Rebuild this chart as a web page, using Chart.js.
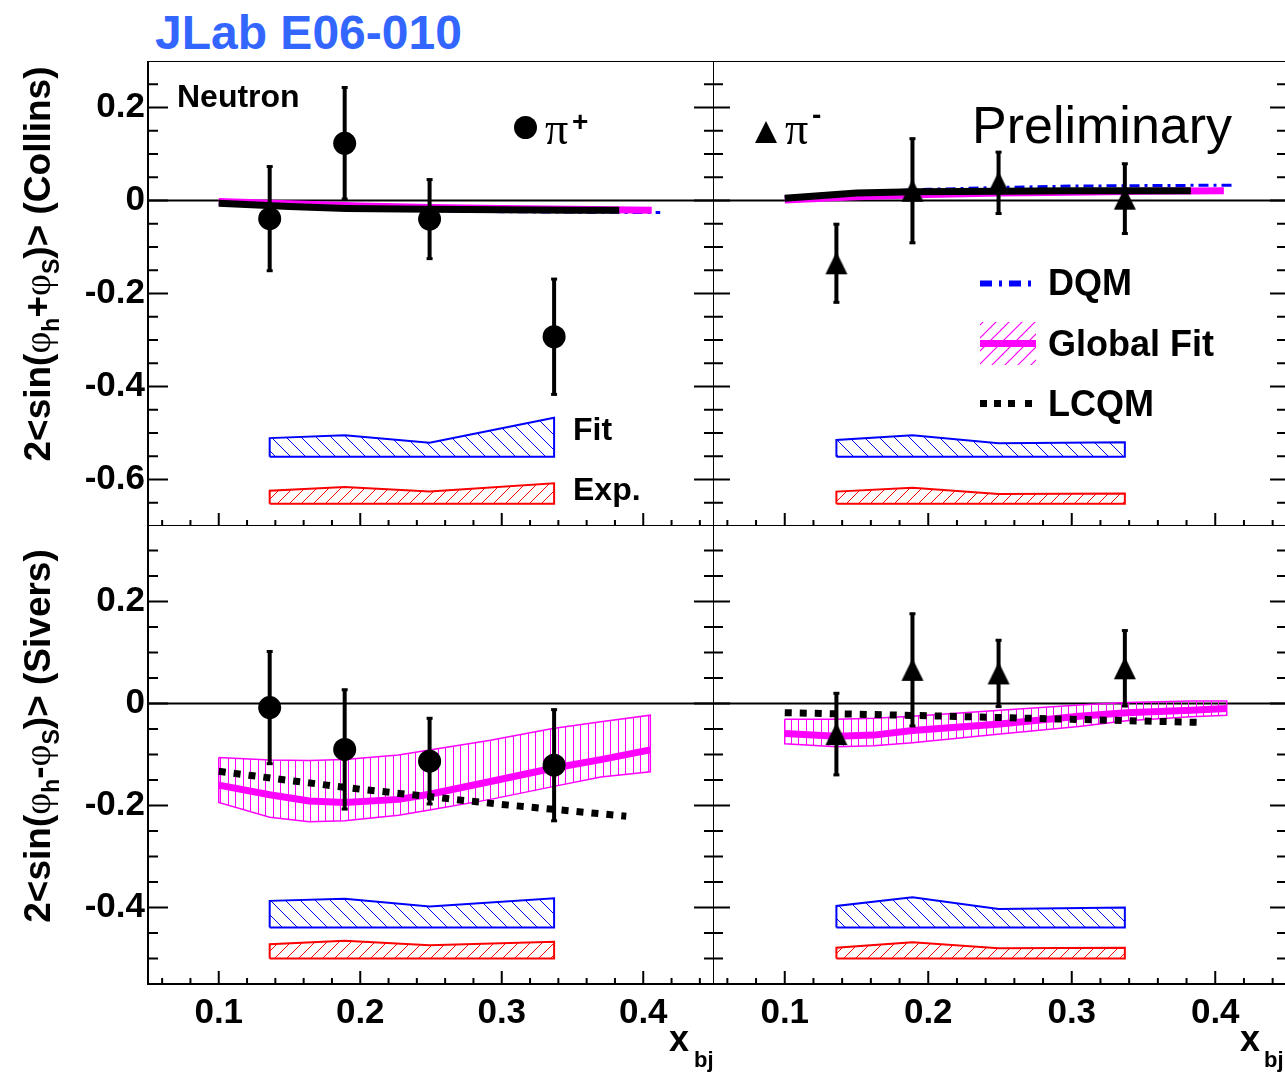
<!DOCTYPE html>
<html>
<head>
<meta charset="utf-8">
<script src="https://cdn.jsdelivr.net/npm/chart.js@4.4.0/dist/chart.umd.min.js"></script>
<style>
html, body { margin: 0; padding: 0; background: #fff; overflow: hidden; width: 1285px; height: 1077px; }
canvas { position: absolute; }
.t { position: absolute; font-family: "Liberation Sans", Arial, sans-serif; font-weight: bold; line-height: 1; white-space: nowrap; color: #000; }
.serif { font-family: "Liberation Serif", "DejaVu Serif", serif; font-weight: normal; }
.ytitle { transform: translate(-50%, -50%) rotate(-90deg); font-size: 37px; }
.ytitle .phi { font-family: "Liberation Serif", serif; font-weight: normal; font-size: 38px; }
.ytitle .sub { font-size: 23px; position: relative; top: 9px; }
svg { position: absolute; }
</style>
</head>
<body>
<canvas id="colPip" width="714" height="465" style="left:0px;top:61px"></canvas>
<canvas id="colPim" width="574" height="465" style="left:713px;top:61px"></canvas>
<canvas id="sivPip" width="714" height="552" style="left:0px;top:525px"></canvas>
<canvas id="sivPim" width="574" height="552" style="left:713px;top:525px"></canvas>

<div class="t" style="left:155px;top:9px;font-size:48px;color:#3366ff">JLab E06-010</div>
<div class="t ytitle" style="left:37px;top:264px">2&lt;sin(<span class="phi">φ</span><span class="sub">h</span>+<span class="phi">φ</span><span class="sub">S</span>)&gt; (Collins)</div>
<div class="t ytitle" style="left:37px;top:736px">2&lt;sin(<span class="phi">φ</span><span class="sub">h</span>-<span class="phi">φ</span><span class="sub">S</span>)&gt; (Sivers)</div>

<div class="t" style="left:177px;top:80px;font-size:32px">Neutron</div>
<svg style="left:510px;top:112px" width="32" height="32"><circle cx="15.5" cy="15.5" r="11.5" fill="#000"/></svg>
<div class="t serif" style="left:545px;top:106px;font-size:46px">π</div>
<div class="t" style="left:572px;top:108px;font-size:28px">+</div>

<svg style="left:750px;top:118px" width="32" height="30"><polygon points="5,25 16,3 27,25" fill="#000"/></svg>
<div class="t serif" style="left:785px;top:106px;font-size:46px">π</div>
<div class="t" style="left:812px;top:101px;font-size:28px">-</div>
<div class="t" style="left:972px;top:99px;font-size:52px;font-weight:normal">Preliminary</div>

<svg style="left:970px;top:270px" width="80" height="145">
  <defs>
    <pattern id="gfHatch" patternUnits="userSpaceOnUse" width="13" height="13">
      <line x1="0" y1="13" x2="13" y2="0" stroke="#ff00ff" stroke-width="1.2"/>
      <line x1="-1" y1="1" x2="1" y2="-1" stroke="#ff00ff" stroke-width="1.2"/>
      <line x1="12" y1="14" x2="14" y2="12" stroke="#ff00ff" stroke-width="1.2"/>
    </pattern>
  </defs>
  <line x1="10" y1="13.5" x2="64" y2="13.5" stroke="#0000ff" stroke-width="6" stroke-dasharray="12 7 3 7"/>
  <rect x="10" y="52" width="56" height="43" fill="url(#gfHatch)"/>
  <line x1="10" y1="73.5" x2="66" y2="73.5" stroke="#ff00ff" stroke-width="7"/>
  <rect x="10" y="130" width="7" height="7" fill="#000"/>
  <rect x="24" y="130" width="7" height="7" fill="#000"/>
  <rect x="38" y="130" width="7" height="7" fill="#000"/>
  <rect x="55" y="130" width="7" height="7" fill="#000"/>
</svg>
<div class="t" style="left:1048px;top:265px;font-size:36px">DQM</div>
<div class="t" style="left:1048px;top:326px;font-size:36px">Global Fit</div>
<div class="t" style="left:1048px;top:386px;font-size:36px">LCQM</div>

<div class="t" style="left:573px;top:413px;font-size:32px">Fit</div>
<div class="t" style="left:573px;top:473px;font-size:32px">Exp.</div>

<div class="t" style="left:669px;top:1021px;font-size:36px">x</div>
<div class="t" style="left:694px;top:1049px;font-size:22px">bj</div>
<div class="t" style="left:1240px;top:1021px;font-size:36px">x</div>
<div class="t" style="left:1264px;top:1049px;font-size:22px">bj</div>

<script>
// x_bj bins of the measured points
const xBins = [0.136, 0.189, 0.249, 0.337];

// tick labels
const xTickVals = [0.1, 0.2, 0.3, 0.4];
const yTicksCollins = [-0.6, -0.4, -0.2, 0, 0.2];
const yTicksSivers = [-0.4, -0.2, 0, 0.2];

// Collins, pi+
const colPipY = [-0.039, 0.123, -0.040, -0.293];
const colPipErr = [0.112, 0.120, 0.085, 0.124];
const colPipFit = [-0.511, -0.505, -0.521, -0.467];
const colPipExp = [-0.624, -0.616, -0.626, -0.608];
// Collins, pi-
const colPimY = [-0.135, 0.021, 0.038, 0.004];
const colPimErr = [0.084, 0.112, 0.066, 0.075];
const colPimFit = [-0.515, -0.505, -0.522, -0.520];
const colPimExp = [-0.626, -0.618, -0.631, -0.630];
const colFitBase = -0.551;
const colExpBase = -0.652;

// Collins model curves
const colLcqmX = [0.10, 0.15, 0.19, 0.25, 0.30, 0.35, 0.383];
const colPipLcqm = [-0.006, -0.013, -0.017, -0.019, -0.020, -0.021, -0.021];
const colPimLcqm = [0.005, 0.016, 0.019, 0.020, 0.021, 0.021, 0.021];
const colGfX = [0.10, 0.15, 0.20, 0.25, 0.30, 0.35, 0.406];
const colPipGf = [-0.002, -0.007, -0.012, -0.015, -0.017, -0.019, -0.021];
const colPimGf = [0.001, 0.008, 0.013, 0.016, 0.018, 0.020, 0.021];
const colDqmX = [0.10, 0.15, 0.20, 0.25, 0.30, 0.35, 0.412];
const colPipDqm = [-0.008, -0.015, -0.019, -0.022, -0.024, -0.025, -0.026];
const colPimDqm = [0.008, 0.018, 0.024, 0.028, 0.031, 0.032, 0.033];

// Sivers, pi+
const sivPipY = [-0.008, -0.090, -0.113, -0.121];
const sivPipErr = [0.110, 0.117, 0.084, 0.109];
const sivPipFit = [-0.387, -0.383, -0.398, -0.382];
const sivPipExp = [-0.472, -0.465, -0.474, -0.467];
// Sivers, pi-
const sivPimY = [-0.060, 0.066, 0.059, 0.069];
const sivPimErr = [0.080, 0.110, 0.065, 0.074];
const sivPimFit = [-0.397, -0.380, -0.403, -0.400];
const sivPimExp = [-0.479, -0.468, -0.480, -0.479];
const sivFitBase = -0.439;
const sivExpBase = -0.500;

// Sivers global fit (central + band) and LCQM
const sivPipGfX = [0.100, 0.136, 0.164, 0.189, 0.227, 0.249, 0.292, 0.336, 0.370, 0.405];
const sivPipGf = [-0.160, -0.179, -0.191, -0.194, -0.188, -0.178, -0.153, -0.127, -0.110, -0.091];
const sivPipGfHi = [-0.106, -0.111, -0.112, -0.110, -0.101, -0.091, -0.072, -0.049, -0.036, -0.023];
const sivPipGfLo = [-0.194, -0.223, -0.232, -0.230, -0.219, -0.209, -0.188, -0.163, -0.144, -0.134];
const sivPipLcqmX = [0.10, 0.15, 0.20, 0.25, 0.30, 0.35, 0.388];
const sivPipLcqm = [-0.133, -0.151, -0.168, -0.183, -0.198, -0.211, -0.221];

const sivPimGfX = [0.100, 0.136, 0.162, 0.189, 0.250, 0.305, 0.338, 0.383, 0.408];
const sivPimGf = [-0.059, -0.064, -0.062, -0.053, -0.040, -0.025, -0.018, -0.013, -0.010];
const sivPimGfHi = [-0.031, -0.031, -0.029, -0.025, -0.013, -0.003, 0.002, 0.005, 0.005];
const sivPimGfLo = [-0.079, -0.085, -0.083, -0.077, -0.060, -0.045, -0.034, -0.026, -0.023];
const sivPimLcqmX = [0.10, 0.20, 0.30, 0.388];
const sivPimLcqm = [-0.018, -0.024, -0.031, -0.037];

const pts = (xs, ys) => xs.map((x, i) => ({ x: x, y: ys[i] }));
const sysBand = (xs, tops, base) =>
  [{ x: xs[0], y: base }, ...pts(xs, tops), { x: xs[xs.length - 1], y: base }, { x: xs[0], y: base }];
const envelope = (xs, hi, lo) => {
  const up = pts(xs, hi);
  return [...up, ...pts(xs, lo).reverse(), up[0]];
};

// hatch tiles
function tile(color, kind, step) {
  const c = document.createElement('canvas');
  c.width = step; c.height = step;
  const g = c.getContext('2d');
  g.strokeStyle = color; g.lineWidth = 1;
  g.beginPath();
  if (kind === '/') {
    g.moveTo(-1, step + 1); g.lineTo(step + 1, -1);
  } else if (kind === '\\') {
    g.moveTo(-1, -1); g.lineTo(step + 1, step + 1);
  } else {
    g.moveTo(3.5, 0); g.lineTo(3.5, step);
    g.moveTo(10.5, 0); g.lineTo(10.5, step);
  }
  g.stroke();
  return c;
}
const fitTile = tile('#0000ff', '\\', 15);
const expTile = tile('#ff0000', '/', 12);
const gfTile = tile('#ff00ff', '|', 15);
const pat = t => ctx => ctx.chart.ctx.createPattern(t, 'repeat');

// triangle marker
const tri = document.createElement('canvas');
tri.width = 24; tri.height = 24;
(function () {
  const g = tri.getContext('2d');
  g.fillStyle = '#000';
  g.beginPath(); g.moveTo(1, 23); g.lineTo(12, 0.5); g.lineTo(23, 23); g.closePath(); g.fill();
})();

// frame, zero line and inside ticks (ROOT style)
const framePlugin = {
  id: 'frame',
  beforeDatasetsDraw(chart) {
    const { ctx, chartArea: a, scales: { y } } = chart;
    const y0 = y.getPixelForValue(0);
    ctx.save();
    ctx.strokeStyle = '#000'; ctx.lineWidth = 2;
    ctx.beginPath(); ctx.moveTo(a.left, y0); ctx.lineTo(a.right, y0); ctx.stroke();
    ctx.restore();
  },
  afterDraw(chart, args, o) {
    const { ctx, chartArea: a, scales: { x, y } } = chart;
    ctx.save();
    ctx.strokeStyle = '#000'; ctx.lineWidth = 2;
    ctx.strokeRect(a.left, a.top, a.right - a.left, a.bottom - a.top);
    ctx.beginPath();
    for (let k = Math.ceil(y.min * 20 - 1e-6); k <= Math.floor(y.max * 20 + 1e-6); k++) {
      const py = y.getPixelForValue(k / 20);
      const len = k % 4 === 0 ? o.yMajor : o.yMinor;
      ctx.moveTo(a.left, py); ctx.lineTo(a.left + len, py);
      ctx.moveTo(a.right, py); ctx.lineTo(a.right - len, py);
    }
    for (let k = Math.ceil(x.min * 50 - 1e-6); k <= Math.floor(x.max * 50 + 1e-6); k++) {
      const px = x.getPixelForValue(k / 50);
      const len = k % 5 === 0 ? 13 : 6;
      ctx.moveTo(px, a.bottom); ctx.lineTo(px, a.bottom - len);
    }
    ctx.stroke();
    ctx.restore();
  }
};

const errorBarPlugin = {
  id: 'errbars',
  afterDatasetsDraw(chart) {
    const { ctx, scales: { x, y } } = chart;
    chart.data.datasets.forEach(ds => {
      if (!ds.errors) return;
      ctx.save();
      ctx.strokeStyle = '#000'; ctx.fillStyle = '#000'; ctx.lineWidth = 4;
      ds.data.forEach((p, i) => {
        const px = x.getPixelForValue(p.x);
        const hi = y.getPixelForValue(p.y + ds.errors[i]);
        const lo = y.getPixelForValue(p.y - ds.errors[i]);
        ctx.beginPath(); ctx.moveTo(px, hi); ctx.lineTo(px, lo); ctx.stroke();
        ctx.fillRect(px - 3, hi - 1.5, 6, 3);
        ctx.fillRect(px - 3, lo - 1.5, 6, 3);
      });
      ctx.restore();
    });
  }
};

const tickFont = { family: 'Liberation Sans', weight: 'bold', size: 35 };
const yFmt = v => (v === 0 ? '0' : v.toFixed(1));

function panel(id, p) {
  const datasets = [
    {
      data: pts(xBins, p.y), errors: p.err, showLine: false,
      pointStyle: p.marker, pointRadius: p.marker === 'circle' ? 11.5 : 12,
      backgroundColor: '#000', borderColor: '#000', borderWidth: 0, order: 0
    },
    {
      data: pts(p.lcqmX, p.lcqm), showLine: true, pointRadius: 0,
      borderColor: '#000', borderWidth: 7, borderDash: p.lcqmDash, order: 1
    },
    {
      data: pts(p.gfX, p.gf), showLine: true, pointRadius: 0,
      borderColor: '#ff00ff', borderWidth: 7, order: 2
    },
    {
      data: sysBand(xBins, p.fit, p.fitBase), showLine: true, pointRadius: 0,
      borderColor: '#0000ff', borderWidth: 2, fill: 'shape', backgroundColor: pat(fitTile), order: 6
    },
    {
      data: sysBand(xBins, p.exp, p.expBase), showLine: true, pointRadius: 0,
      borderColor: '#ff0000', borderWidth: 2, fill: 'shape', backgroundColor: pat(expTile), order: 7
    }
  ];
  if (p.dqm) {
    datasets.push({
      data: pts(p.dqmX, p.dqm), showLine: true, pointRadius: 0,
      borderColor: '#0000ff', borderWidth: 3, borderDash: [10, 5, 3, 5], order: 3
    });
  }
  if (p.gfHi) {
    datasets.push({
      data: envelope(p.gfX, p.gfHi, p.gfLo), showLine: true, pointRadius: 0,
      borderColor: '#ff00ff', borderWidth: 1.5, fill: 'shape', backgroundColor: pat(gfTile), order: 4
    });
  }
  new Chart(document.getElementById(id), {
    type: 'scatter',
    data: { datasets: datasets },
    options: {
      responsive: false, animation: false, events: [],
      layout: { padding: 0, autoPadding: false },
      elements: { line: { tension: 0 } },
      plugins: {
        legend: { display: false }, tooltip: { enabled: false },
        frame: { yMajor: p.left ? 20 : 17, yMinor: 10 }
      },
      scales: {
        x: {
          type: 'linear', min: 0.05, max: 0.45, display: p.bottom,
          afterBuildTicks: s => { s.ticks = xTickVals.map(v => ({ value: v })); },
          afterFit: s => { s.height = p.bottom ? 93 : 0; s.paddingLeft = 0; s.paddingRight = 0; },
          grid: { display: false, drawTicks: false }, border: { display: false },
          ticks: { padding: 8, color: '#000', font: tickFont, autoSkip: false, maxRotation: 0, callback: v => v.toFixed(1) }
        },
        y: {
          type: 'linear', min: p.yMin, max: p.yMax, display: p.left,
          afterBuildTicks: s => { s.ticks = p.yTicks.map(v => ({ value: v })); },
          afterFit: s => { s.width = p.left ? 148 : 0; s.paddingTop = 0; s.paddingBottom = 0; },
          grid: { display: false, drawTicks: false }, border: { display: false },
          ticks: { padding: 3, color: '#000', font: tickFont, autoSkip: false, callback: yFmt }
        }
      }
    },
    plugins: [framePlugin, errorBarPlugin]
  });
}

panel('colPip', {
  left: true, bottom: false, yMin: -0.7, yMax: 0.3, yTicks: yTicksCollins, marker: 'circle',
  y: colPipY, err: colPipErr, fit: colPipFit, exp: colPipExp, fitBase: colFitBase, expBase: colExpBase,
  lcqmX: colLcqmX, lcqm: colPipLcqm, lcqmDash: [], gfX: colGfX, gf: colPipGf, dqmX: colDqmX, dqm: colPipDqm
});
panel('colPim', {
  left: false, bottom: false, yMin: -0.7, yMax: 0.3, yTicks: yTicksCollins, marker: tri,
  y: colPimY, err: colPimErr, fit: colPimFit, exp: colPimExp, fitBase: colFitBase, expBase: colExpBase,
  lcqmX: colLcqmX, lcqm: colPimLcqm, lcqmDash: [], gfX: colGfX, gf: colPimGf, dqmX: colDqmX, dqm: colPimDqm
});
panel('sivPip', {
  left: true, bottom: true, yMin: -0.55, yMax: 0.35, yTicks: yTicksSivers, marker: 'circle',
  y: sivPipY, err: sivPipErr, fit: sivPipFit, exp: sivPipExp, fitBase: sivFitBase, expBase: sivExpBase,
  lcqmX: sivPipLcqmX, lcqm: sivPipLcqm, lcqmDash: [7, 8], gfX: sivPipGfX, gf: sivPipGf,
  gfHi: sivPipGfHi, gfLo: sivPipGfLo
});
panel('sivPim', {
  left: false, bottom: true, yMin: -0.55, yMax: 0.35, yTicks: yTicksSivers, marker: tri,
  y: sivPimY, err: sivPimErr, fit: sivPimFit, exp: sivPimExp, fitBase: sivFitBase, expBase: sivExpBase,
  lcqmX: sivPimLcqmX, lcqm: sivPimLcqm, lcqmDash: [7, 8], gfX: sivPimGfX, gf: sivPimGf,
  gfHi: sivPimGfHi, gfLo: sivPimGfLo
});
</script>
</body>
</html>
